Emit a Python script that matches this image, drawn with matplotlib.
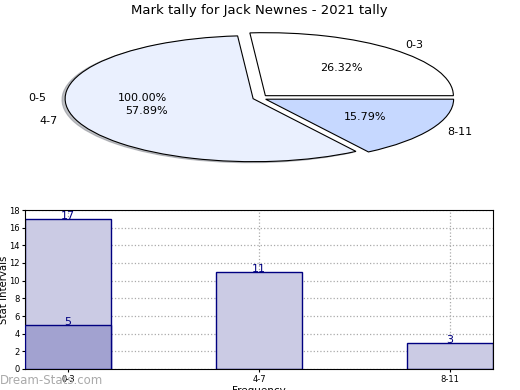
import numpy as np
import matplotlib
matplotlib.use("Agg")
import matplotlib.pyplot as plt
from matplotlib.patches import Shadow

# pie data
pie_labels = ["0-3", "4-7", "8-11"]
pie_counts = [5, 11, 3]
pie_colors = ["#ffffff", "#eaf0fe", "#c6d8ff"]
pie_explode = [0.05, 0.033, 0.04]
back_label = ["0-5"]
back_value = [1]

# bar data
bar_cats = ["0-3", "4-7", "8-11"]
bar_back = [17, 11, 3]
bar_front = [5]
yticks = list(range(0, 19, 2))

fig = plt.figure(figsize=(5.2, 3.9), dpi=100)
fig.text(0.498, 0.974, "Mark tally for Jack Newnes - 2021 tally", ha="center", va="center", fontsize=9.5)

# pie axes: unit radius -> 188 px wide, 63 px tall, centre at (259, 98)
rx, ry = 188, 63
cx, cy = 259, 98
lim = 1.3
axp = fig.add_axes([(cx - lim * rx) / 520, (390 - cy - lim * ry) / 390,
                    2 * lim * rx / 520, 2 * lim * ry / 390])

# hidden full pie behind, only its texts show
w0, t0, a0 = axp.pie(back_value, labels=back_label, autopct="%.2f%%", radius=1.03,
                     startangle=0, counterclock=True,
                     textprops=dict(fontsize=8))
for w in w0:
    w.set_visible(False)

wedges, texts, autotexts = axp.pie(pie_counts, labels=pie_labels, colors=pie_colors,
                                   explode=pie_explode, autopct="%.2f%%",
                                   startangle=0, counterclock=True,
                                   wedgeprops=dict(edgecolor="black", linewidth=0.8),
                                   textprops=dict(fontsize=8))
# shadow only shows under the big slice
sh = Shadow(wedges[1], -0.012, -0.012, shade=0.45)
sh.set_zorder(wedges[1].get_zorder() - 0.1)
axp.add_patch(sh)
axp.set_aspect("auto")
axp.set_xlim(-lim, lim)
axp.set_ylim(-lim, lim)
axp.axis("off")

# bar axes
ax = fig.add_axes([25 / 520, (390 - 369) / 390, 468 / 520, 159 / 390])
x = np.arange(len(bar_cats))
bw = 0.45
ax.bar(x, bar_back, width=bw, color="#cbcbe4", edgecolor="#000080", linewidth=1, zorder=2)
ax.bar(x[:len(bar_front)], bar_front, width=bw, color="#a2a2d0", edgecolor="#000080", linewidth=1, zorder=3)
for xi, v in zip(x, bar_back):
    ax.text(xi, v - 0.3, str(v), ha="center", va="bottom", color="#000080", fontsize=8, zorder=4)
for xi, v in zip(x, bar_front):
    ax.text(xi, v - 0.3, str(v), ha="center", va="bottom", color="#000080", fontsize=8, zorder=4)

ax.set_xlim(-0.225, 2.225)
ax.set_ylim(0, 18)
ax.set_yticks(yticks)
ax.set_xticks(x)
ax.set_xticklabels(bar_cats)
ax.tick_params(labelsize=6, length=2, pad=2)
ax.grid(True, linestyle=":", color="#aaaaaa", linewidth=0.9, zorder=0)
ax.set_axisbelow(True)
ax.set_ylabel("Stat Intervals", fontsize=7.3)
ax.yaxis.set_label_coords(-0.034, 0.5)
ax.set_xlabel("Frequency", fontsize=7.5, labelpad=2)

fig.text(0.0, 0.025, "Dream-Stats.com", ha="left", va="center", fontsize=8.5,
         color="#aaaaaa")

fig.savefig("out.png", dpi=100)
